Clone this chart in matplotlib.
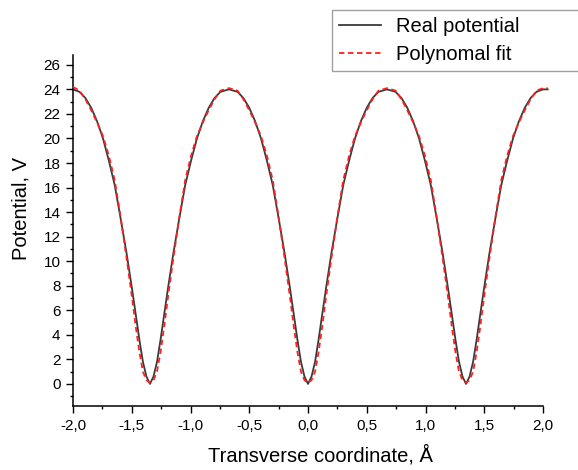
import numpy as np
import matplotlib
matplotlib.use("Agg")
import matplotlib.pyplot as plt
from matplotlib.ticker import MultipleLocator, FuncFormatter

# -------- data --------
# real potential (black solid)
x_real = [-2.0, -1.945, -1.895, -1.845, -1.795, -1.745, -1.695, -1.645, -1.595, -1.545,
          -1.5, -1.465, -1.435, -1.405, -1.375, -1.345,
          -1.315, -1.285, -1.255, -1.225, -1.19, -1.145, -1.095, -1.045, -0.995, -0.945,
          -0.895, -0.845, -0.795, -0.745, -0.6725,
          -0.6, -0.55, -0.5, -0.45, -0.4, -0.35, -0.3, -0.25, -0.2, -0.155,
          -0.12, -0.09, -0.06, -0.03, 0.0,
          0.03, 0.06, 0.09, 0.12, 0.155, 0.2, 0.25, 0.3, 0.35, 0.4,
          0.45, 0.5, 0.55, 0.6, 0.6725,
          0.745, 0.795, 0.845, 0.895, 0.945, 0.995, 1.045, 1.095, 1.145, 1.19,
          1.225, 1.255, 1.285, 1.315, 1.345,
          1.375, 1.405, 1.435, 1.465, 1.5, 1.545, 1.595, 1.645, 1.695, 1.745,
          1.795, 1.845, 1.895, 1.945, 2.0, 2.04]
y_real = [24.0, 23.8, 23.3, 22.5, 21.4, 20.0, 18.2, 16.2, 13.5, 10.7,
          7.9, 5.6, 3.6, 1.8, 0.6, 0.0,
          0.6, 1.8, 3.6, 5.6, 7.9, 10.7, 13.5, 16.2, 18.2, 20.0,
          21.4, 22.5, 23.3, 23.8, 24.0,
          23.8, 23.3, 22.5, 21.4, 20.0, 18.2, 16.2, 13.5, 10.7, 7.9,
          5.6, 3.6, 1.8, 0.6, 0.0,
          0.6, 1.8, 3.6, 5.6, 7.9, 10.7, 13.5, 16.2, 18.2, 20.0,
          21.4, 22.5, 23.3, 23.8, 24.0,
          23.8, 23.3, 22.5, 21.4, 20.0, 18.2, 16.2, 13.5, 10.7, 7.9,
          5.6, 3.6, 1.8, 0.6, 0.0,
          0.6, 1.8, 3.6, 5.6, 7.9, 10.7, 13.5, 16.2, 18.2, 20.0,
          21.4, 22.5, 23.3, 23.8, 24.0, 24.0]

# polynomial fit (red dashed)
x_fit = x_real
y_fit = [24.2, 23.9, 23.2, 22.3, 21.3, 20.2, 18.6, 16.6, 13.6, 10.3,
         7.2, 4.6, 2.6, 1.0, 0.3, 0.1,
         0.3, 1.0, 2.6, 4.6, 7.2, 10.3, 13.6, 16.6, 18.6, 20.2,
         21.3, 22.3, 23.2, 23.9, 24.1,
         23.9, 23.2, 22.3, 21.3, 20.2, 18.6, 16.6, 13.6, 10.3, 7.2,
         4.6, 2.6, 1.0, 0.3, 0.1,
         0.3, 1.0, 2.6, 4.6, 7.2, 10.3, 13.6, 16.6, 18.6, 20.2,
         21.3, 22.3, 23.2, 23.9, 24.1,
         23.9, 23.2, 22.3, 21.3, 20.2, 18.6, 16.6, 13.6, 10.3, 7.2,
         4.6, 2.6, 1.0, 0.3, 0.1,
         0.3, 1.0, 2.6, 4.6, 7.2, 10.3, 13.6, 16.6, 18.6, 20.2,
         21.3, 22.3, 23.2, 23.9, 24.1, 24.1]

XLABEL = 'Transverse coordinate, Å'
YLABEL = 'Potential, V'

plt.rcParams['font.family'] = ['Liberation Sans', 'DejaVu Sans']

W, H = 578, 470
fig = plt.figure(figsize=(W / 100, H / 100), dpi=100)
ax = fig.add_axes([73 / W, 1 - 406 / H, 470 / W, 351 / H])

ax.plot(x_real, y_real, color='#3a3a3a', lw=1.3, label='Real potential', clip_on=False, zorder=2)
ax.plot(x_fit, y_fit, color='#ff2020', lw=1.3, ls=(0, (3, 2)), label='Polynomal fit',
        clip_on=False, zorder=3)

ax.set_xlim(-2.0, 2.0)
ax.set_ylim(-1.8, 26.8)

# Origin style: only left and bottom axes
for s in ['top', 'right']:
    ax.spines[s].set_visible(False)
for s in ['left', 'bottom']:
    ax.spines[s].set_linewidth(1.1)

ax.xaxis.set_major_locator(MultipleLocator(0.5))
ax.xaxis.set_minor_locator(MultipleLocator(0.25))
ax.yaxis.set_major_locator(MultipleLocator(2))
ax.yaxis.set_minor_locator(MultipleLocator(1))
# decimal comma on the x axis
ax.xaxis.set_major_formatter(FuncFormatter(lambda v, p: f'{v:.1f}'.replace('.', ',').replace('-0,0', '0,0')))
ax.yaxis.set_major_formatter(FuncFormatter(lambda v, p: f'{v:.0f}' if v >= 0 else ''))
ax.tick_params(which='major', direction='out', length=5, width=1.0, labelsize=11, pad=4)
ax.tick_params(which='minor', direction='out', length=2.5, width=1.0)

ax.set_xlabel(XLABEL, fontsize=14.5)
ax.set_ylabel(YLABEL, fontsize=14.5)
ax.xaxis.set_label_coords(0.526, -0.11)
ax.xaxis.label.set_va('top')
ax.yaxis.set_label_coords(-0.09, 0.564)

# legend box: x 332..580 px, y 10..69 px from the top
leg = ax.legend(loc='upper left', bbox_to_anchor=(332 / W, 1 - 69 / H, 250 / W, 59 / H),
                bbox_transform=fig.transFigure, mode='expand', fontsize=14.5, frameon=True,
                fancybox=False, handlelength=2.1, handletextpad=0.75, borderpad=0.35,
                labelspacing=0.45, borderaxespad=0)
leg.get_frame().set_edgecolor('#888888')
leg.get_frame().set_linewidth(1.0)

fig.savefig('out.png', dpi=100)
